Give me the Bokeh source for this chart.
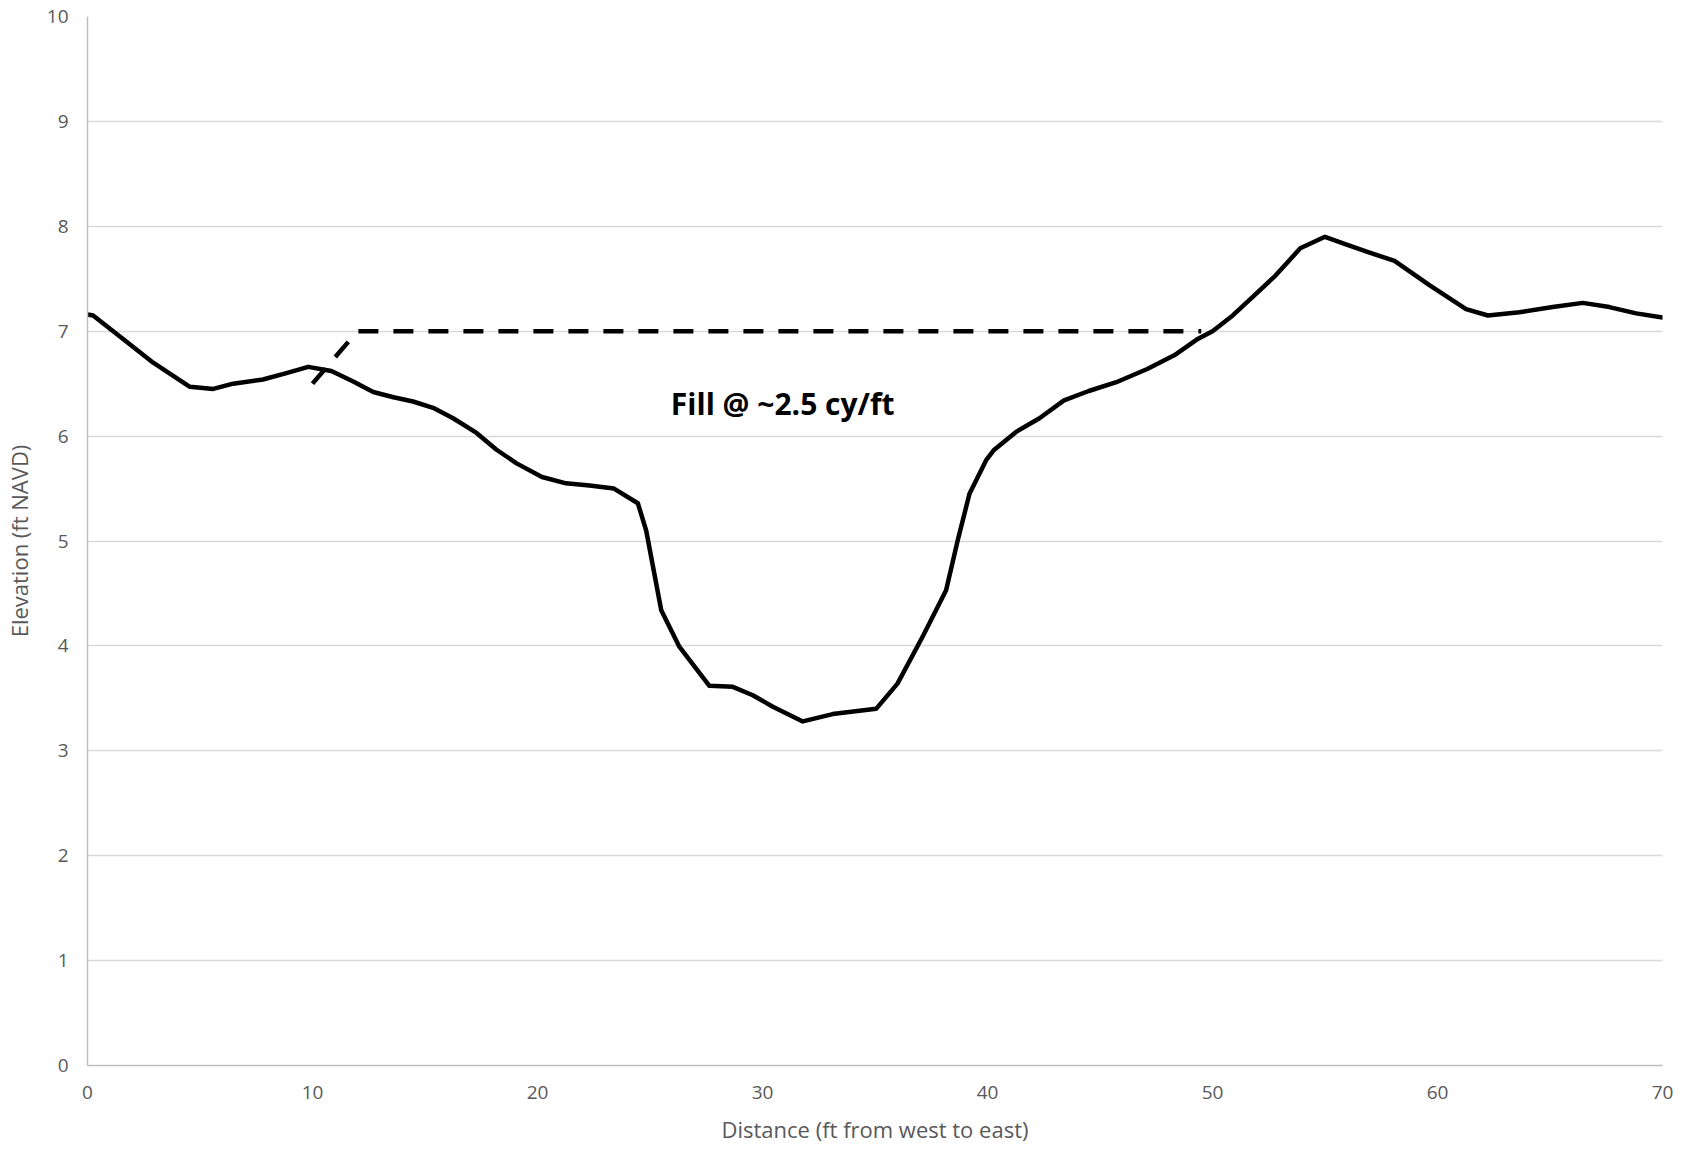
from bokeh.plotting import figure
from bokeh.models import Range1d, FixedTicker, Label
from bokeh.embed import file_html
from bokeh.resources import INLINE

# Ground profile (distance ft, elevation ft NAVD)
distance = [0.0, 0.25, 1.44, 2.92, 4.55, 5.59, 6.47, 7.8, 8.84, 9.81, 10.84, 11.81, 12.7,
            13.6, 14.47, 15.36, 16.25, 17.29, 18.18, 19.07, 20.2, 21.27, 22.31, 23.4,
            24.46, 24.83, 25.5, 26.31, 27.64, 28.68, 29.57, 30.46, 31.79, 33.12, 35.05,
            36.0, 37.12, 38.16, 38.68, 39.2, 39.94, 40.3, 41.27, 42.31, 43.4, 44.5, 45.8,
            47.1, 48.3, 49.3, 50.0, 50.9, 51.8, 52.8, 53.9, 55.0, 55.9, 56.98, 58.09,
            59.64, 61.27, 62.24, 63.64, 65.12, 66.46, 67.64, 68.83, 70.0]
elevation = [7.16, 7.15, 6.95, 6.70, 6.47, 6.45, 6.50, 6.54, 6.60, 6.66, 6.62, 6.52, 6.42,
             6.37, 6.33, 6.27, 6.17, 6.03, 5.87, 5.74, 5.61, 5.55, 5.53, 5.50,
             5.36, 5.10, 4.34, 3.99, 3.62, 3.61, 3.53, 3.42, 3.28, 3.35, 3.40,
             3.64, 4.09, 4.53, 5.01, 5.45, 5.77, 5.87, 6.04, 6.17, 6.34, 6.43, 6.52,
             6.64, 6.77, 6.92, 7.00, 7.15, 7.33, 7.53, 7.79, 7.90, 7.83, 7.75, 7.67,
             7.44, 7.21, 7.15, 7.18, 7.23, 7.27, 7.23, 7.17, 7.13]

# Proposed fill surface (dashed)
fill_x = [10.0, 12.0, 49.5]
fill_y = [6.5, 7.0, 7.0]

label_text = "Fill @ ~2.5 cy/ft"
label_x = 30.9
label_y = 6.31

x_ticks = [0, 10, 20, 30, 40, 50, 60, 70]
y_ticks = [0, 1, 2, 3, 4, 5, 6, 7, 8, 9, 10]

FONT = "Open Sans"
GRAY = "#595959"
GRID = "#d9d9d9"

p = figure(frame_width=1575, frame_height=1049,
           x_range=Range1d(0, 70), y_range=Range1d(0, 10),
           output_backend="svg", toolbar_location=None,
           min_border_left=87, min_border_right=14, min_border_top=16, min_border_bottom=75)
p.outline_line_color = None
p.background_fill_color = "white"

p.xaxis.ticker = FixedTicker(ticks=x_ticks)
p.yaxis.ticker = FixedTicker(ticks=y_ticks)
for ax in (p.xaxis[0], p.yaxis[0]):
    ax.major_tick_line_color = None
    ax.minor_tick_line_color = None
    ax.axis_line_color = "#bfbfbf"
    ax.axis_line_width = 1.5
    ax.major_label_text_font = FONT
    ax.major_label_text_font_size = "19px"
    ax.major_label_text_color = GRAY
    ax.axis_label_text_font = FONT
    ax.axis_label_text_font_size = "22px"
    ax.axis_label_text_font_style = "normal"
    ax.axis_label_text_color = GRAY
p.xaxis.axis_label = "Distance (ft from west to east)"
p.yaxis.axis_label = "Elevation (ft NAVD)"
p.xaxis.major_label_standoff = 14
p.yaxis.major_label_standoff = 13
p.xaxis.axis_label_standoff = 12
p.yaxis.axis_label_standoff = 10

p.xgrid.grid_line_color = None
p.ygrid.grid_line_color = GRID
p.ygrid.grid_line_width = 1.5

p.line(distance, elevation, line_color="black", line_width=4.5, line_join="round", line_cap="round")
p.line(fill_x, fill_y, line_color="black", line_width=4.5, line_dash="20 15")

p.add_layout(Label(x=label_x, y=label_y, text=label_text, text_font=FONT,
                   text_font_size="30px", text_font_style="bold", text_color="black",
                   text_align="center", text_baseline="middle"))

open("out.html", "w").write(file_html(p, INLINE))
